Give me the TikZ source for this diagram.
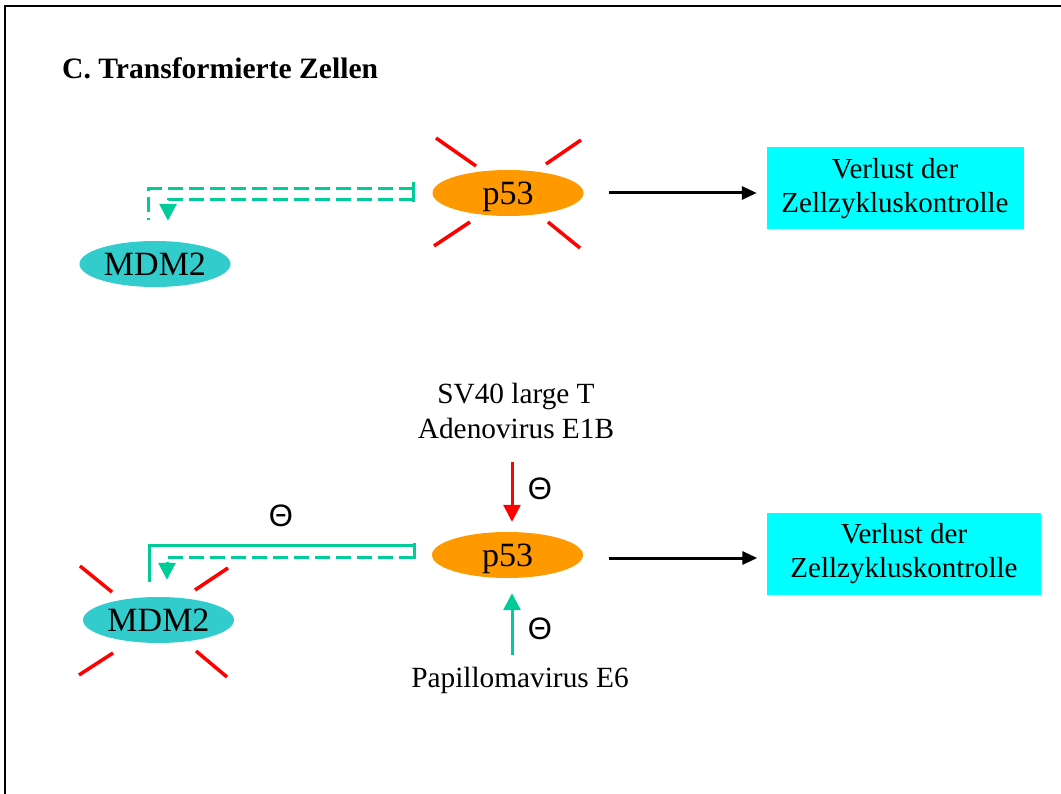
\documentclass[tikz,border=0pt]{standalone}
\usepackage{fontspec}
\setmainfont{Liberation Serif}
\newfontfamily\sansf{Liberation Sans}
\usetikzlibrary{shapes.geometric,arrows.meta,calc}
\definecolor{orangep}{RGB}{255,153,0}
\definecolor{tealm}{RGB}{51,204,204}
\definecolor{greenl}{RGB}{0,204,153}
\definecolor{cyanb}{RGB}{0,255,255}
\begin{document}
\begin{tikzpicture}[x=1pt,y=-1pt,
 prot/.style={ellipse, inner sep=0pt, minimum width=151pt, minimum height=46pt, text depth=0pt, font=\fontsize{34}{40}\selectfont},
 p53/.style={prot, fill=orangep},
 mdm/.style={prot, fill=tealm},
 loss/.style={rectangle, fill=cyanb, align=center, inner sep=0pt, minimum height=82pt, font=\fontsize{29}{34}\selectfont},
 lbl/.style={align=center, inner sep=0pt, font=\fontsize{29.3}{35}\selectfont},
 theta/.style={font=\sansf\fontsize{31}{31}\selectfont, inner sep=0pt},
 burst/.style={red, line width=3.5pt},
 link/.style={greenl, line width=3pt, line join=miter},
 dashlink/.style={link, dash pattern=on 15pt off 6pt},
 gtip/.style={-{Triangle[length=17pt,width=17pt]}},
 ktip/.style={black, line width=3pt, -{Triangle[length=15pt,width=13pt]}},
]
\useasboundingbox (0,0) rectangle (1061,794);
\draw[line width=2pt] (1061,6) -- (5,6) -- (5,794);

\node[anchor=base west, inner sep=0pt, font=\bfseries\fontsize{29.6}{32}\selectfont] (title) at (62,79) {C. Transformierte Zellen};

% ---------- top ----------
\node[p53] (pa) at (508,193) {p53};
\node[mdm] (ma) at (155,264) {MDM2};
\node[loss, minimum width=257pt] (va) at (895,188.5) {Verlust der\\Zellzykluskontrolle};
\draw[ktip] ([xshift=25.5pt]pa.east) -- ([shift={(-9.5,4.5)}]va.west);

\draw[dashlink] ([shift={(-18.5,-4)}]pa.west) -| ([shift={(-6.5,-21)}]ma.north);
\draw[dashlink, gtip] ([shift={(-18.5,6.5)}]pa.west) -| ([shift={(13,-20)}]ma.north);
\draw[link] ([shift={(-18.5,-11)}]pa.west) -- ([shift={(-18.5,9)}]pa.west);

\draw[burst] ([shift={(-72,-55)}]pa.center) -- ([shift={(-32,-27)}]pa.center);
\draw[burst] ([shift={(38,-29)}]pa.center) -- ([shift={(73,-53)}]pa.center);
\draw[burst] ([shift={(-74,53)}]pa.center) -- ([shift={(-38,29)}]pa.center);
\draw[burst] ([shift={(40,29)}]pa.center) -- ([shift={(72,55)}]pa.center);

% ---------- bottom ----------
\node[p53] (pb) at (507.5,555) {p53};
\node[mdm] (mb) at (158.5,620) {MDM2};
\node[loss, minimum width=274pt] (vb) at (904,554) {Verlust der\\Zellzykluskontrolle};
\draw[ktip] ([shift={(25.5,3)}]pb.east) -- ([shift={(-9.5,4)}]vb.west);

\node[lbl, anchor=south] (sv) at (516,438.5) {SV40 large T\\Adenovirus E1B};
\node[lbl, anchor=base] (pv) at (520,687) {Papillomavirus E6};

\draw[burst, line width=3pt, gtip] ([shift={(4.5,-70)}]pb.north) -- ([shift={(4.5,-10)}]pb.north);
\draw[link, gtip] ([shift={(4.5,77)}]pb.south) -- ([shift={(4.5,15)}]pb.south);

\draw[link] ([shift={(-17.5,-10)}]pb.west) -| ([shift={(-9.5,-15)}]mb.north);
\draw[dashlink, gtip] ([shift={(-17.5,2.5)}]pb.west) -| ([shift={(8.5,-17)}]mb.north);
\draw[link] ([shift={(-17.5,-12)}]pb.west) -- ([shift={(-17.5,4)}]pb.west);

\node[theta] (t1) at (281,516) {Θ};
\node[theta] (t2) at (540,489) {Θ};
\node[theta] (t3) at (540,629) {Θ};

\draw[burst] ([shift={(-78.5,-54)}]mb.center) -- ([shift={(-46.5,-28)}]mb.center);
\draw[burst] ([shift={(36.5,-30)}]mb.center) -- ([shift={(69.5,-52)}]mb.center);
\draw[burst] ([shift={(-79.5,55)}]mb.center) -- ([shift={(-45.5,33)}]mb.center);
\draw[burst] ([shift={(37.5,31)}]mb.center) -- ([shift={(68.5,57)}]mb.center);
\end{tikzpicture}
\end{document}
